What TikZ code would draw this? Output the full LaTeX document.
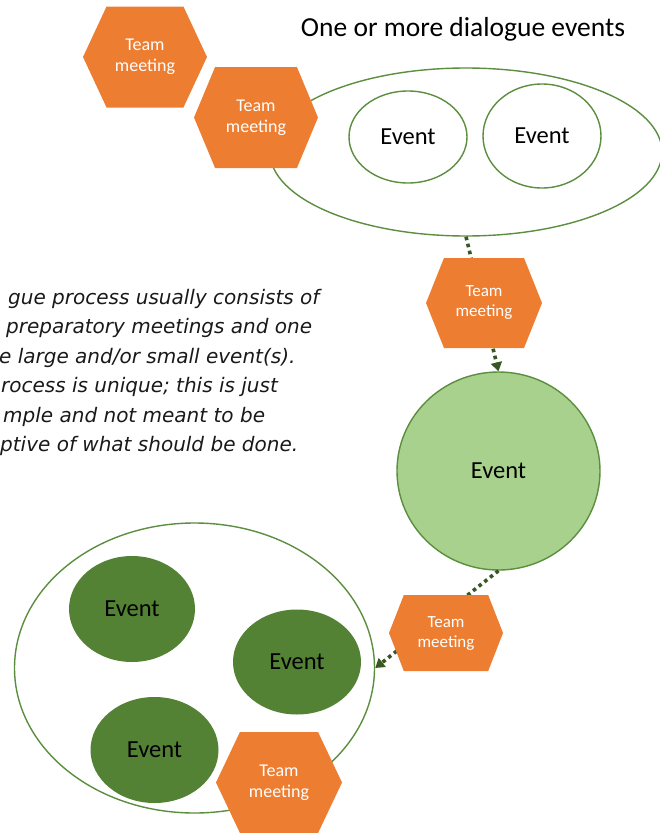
\documentclass[tikz,border=0pt]{standalone}
\usepackage{fontspec}
\setmainfont{Carlito}
\newfontfamily\notefont{DejaVu Sans}
\usetikzlibrary{shapes.geometric,arrows.meta,calc}
\definecolor{hexorange}{HTML}{ED7D31}
\definecolor{evgreen}{HTML}{548235}
\definecolor{evlight}{HTML}{A9D18E}
\definecolor{evline}{HTML}{5B8E3E}
\definecolor{linkgreen}{HTML}{385723}

\begin{document}
\begin{tikzpicture}[x=1pt, y=-1pt,
	hexbox/.style n args={3}{minimum width=#1, minimum height=#2, inner sep=0pt, text=white, align=center, font=\fontsize{18}{21}\selectfont,
		path picture={\fill[hexorange] (path picture bounding box.west) -- ($(path picture bounding box.north west)!#3!(path picture bounding box.north east)$) -- ($(path picture bounding box.north east)!#3!(path picture bounding box.north west)$) -- (path picture bounding box.east) -- ($(path picture bounding box.south east)!#3!(path picture bounding box.south west)$) -- ($(path picture bounding box.south west)!#3!(path picture bounding box.south east)$) -- cycle;}},
	ring/.style={ellipse, draw=evline, line width=1.4pt, fill=white, inner sep=0pt, font=\fontsize{24.5}{27}\selectfont},
	darkev/.style={ellipse, fill=evgreen, inner sep=0pt, font=\fontsize{24.5}{27}\selectfont},
	link/.style={linkgreen, line width=3.6pt, dash pattern=on 3.6pt off 3.6pt}]
	\useasboundingbox (0,0) rectangle (659,833);
	
	\node (title) at (463,29) {\fontsize{27.5}{30}\selectfont One or more dialogue events};
	
	\node[ring, minimum width=392pt, minimum height=168pt] (evts) at (466,152) {};
	\node[ring, minimum width=118pt, minimum height=92pt] (ev1) at (408,137) {Event};
	\node[ring, minimum width=118pt, minimum height=104pt] (ev2) at (542,136) {Event};
	
	\node[ring, fill=evlight, minimum width=203pt, minimum height=198pt] (bigev) at (498.5,471) {Event};
	
	\node[ring, minimum width=360pt, minimum height=290pt] (grp) at (194.5,668) {};
	\node[darkev, minimum width=126pt, minimum height=106pt] (d1) at (132,609) {Event};
	\node[darkev, minimum width=128pt, minimum height=105pt] (d2) at (297,662) {Event};
	\node[darkev, minimum width=128pt, minimum height=106pt] (d3) at (154.5,750) {Event};
	
	\draw[link, -{Triangle[width=11pt, length=9pt]}] (evts.south) -- (bigev.north);
	\draw[link, -{Triangle[width=11pt, length=9pt]}] (bigev.south) -- (grp.east);
	
	\node[hexbox={124pt}{101pt}{0.19}] (meet1) at (145,57) {Team\\meeting};
	\node[hexbox={124pt}{101pt}{0.17}] (meet2) at (256,117.5) {Team\\meeting};
	\node[hexbox={116pt}{90pt}{0.155}, font=\fontsize{17}{20}\selectfont] (meet3) at (484,303) {Team\\meeting};
	\node[hexbox={114pt}{76pt}{0.13}, font=\fontsize{17}{20}\selectfont] (meet4) at (446,633) {Team\\meeting};
	\node[hexbox={126pt}{101pt}{0.19}] (meet5) at (279,782.5) {Team\\meeting};
	
	\node[anchor=north west, align=left, inner sep=0pt, text=black!90, font=\notefont\itshape\fontsize{20}{29.4}\selectfont] (note) at (-1,289) {\hspace*{9pt}gue process usually consists of\\ \hspace*{7pt}preparatory meetings and one\\ e large and/or small event(s).\\ \hspace*{2pt}rocess is unique; this is just\\ \hspace*{4pt}mple and not meant to be\\ \hspace*{1pt}ptive of what should be done.};
\end{tikzpicture}
\end{document}
